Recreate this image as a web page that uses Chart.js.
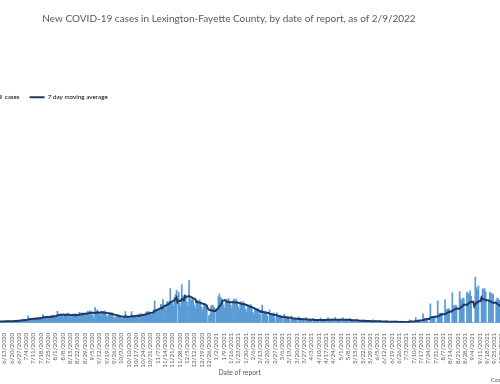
<!DOCTYPE html>
<html>
<head>
<meta charset="utf-8">
<script src="https://cdn.jsdelivr.net/npm/chart.js@4.4.1/dist/chart.umd.min.js"></script>
<style>
  html, body { margin: 0; padding: 0; background: #fff; overflow: hidden; width: 500px; height: 384px; }
  /* the chart is wider than the window: it is cut on both sides like the reference */
  #wrap { position: absolute; left: -53px; top: 0; width: 564px; height: 384px; }
</style>
</head>
<body>
<div id="wrap"><canvas id="chart" width="564" height="384"></canvas></div>
<script>
// daily counts, starting Mon 5/18/2020; rows are Sat..Fri weeks
const cases = [
  9, 12, 11, 12, 10,
  8, 7, 9, 12, 11, 12, 11,
  8, 7, 10, 12, 11, 13, 11,
  9, 8, 10, 13, 12, 14, 12,
  11, 9, 12, 15, 14, 16, 14,
  14, 12, 15, 20, 19, 20, 19,
  19, 16, 21, 27, 25, 28, 24,
  22, 18, 60, 34, 32, 35, 33,
  32, 27, 36, 44, 41, 46, 40,
  40, 33, 70, 50, 48, 54, 47,
  47, 38, 50, 63, 60, 66, 60,
  54, 44, 98, 70, 66, 75, 68,
  58, 48, 62, 78, 75, 82, 74,
  54, 45, 58, 74, 70, 77, 70,
  61, 50, 88, 82, 78, 86, 78,
  72, 60, 77, 98, 93, 102, 94,
  75, 62, 40, 128, 98, 107, 98,
  72, 60, 77, 98, 94, 102, 93,
  61, 50, 65, 83, 79, 86, 79,
  47, 38, 50, 63, 60, 66, 61,
  38, 31, 40, 50, 94, 53, 47,
  43, 36, 46, 94, 56, 61, 56,
  54, 45, 58, 74, 70, 77, 70,
  69, 57, 73, 93, 89, 97, 89,
  80, 66, 85, 108, 187, 113, 104,
  116, 95, 122, 156, 150, 196, 150,
  140, 110, 180, 180, 170, 289, 175,
  170, 140, 215, 240, 275, 0, 260,
  165, 140, 323, 230, 215, 240, 225,
  175, 140, 357, 200, 185, 205, 190,
  150, 120, 175, 190, 180, 195, 175,
  130, 105, 140, 165, 155, 150, 0,
  60, 70, 140, 150, 145, 130, 0,
  120, 110, 220, 245, 215, 205, 185,
  150, 125, 190, 200, 185, 205, 180,
  150, 120, 185, 200, 180, 200, 180,
  135, 110, 165, 180, 165, 180, 165,
  115, 90, 140, 150, 140, 155, 135,
  88, 70, 108, 118, 110, 120, 105,
  70, 0, 150, 95, 90, 100, 90,
  55, 0, 110, 75, 70, 80, 85,
  42, 0, 85, 55, 52, 60, 62,
  35, 0, 72, 47, 45, 50, 52,
  28, 0, 58, 37, 35, 40, 40,
  25, 0, 50, 33, 31, 35, 36,
  22, 0, 44, 28, 27, 30, 31,
  20, 0, 38, 25, 24, 27, 27,
  20, 0, 40, 26, 25, 28, 29,
  22, 0, 44, 28, 27, 30, 31,
  22, 0, 46, 28, 26, 30, 30,
  22, 0, 44, 28, 27, 30, 31,
  18, 0, 36, 23, 22, 24, 24,
  14, 0, 30, 18, 18, 19, 20,
  13, 0, 26, 16, 16, 17, 17,
  10, 0, 8, 26, 14, 16, 17,
  8, 0, 18, 11, 11, 12, 10,
  7, 0, 16, 10, 9, 11, 10,
  6, 0, 14, 9, 8, 10, 9,
  0, 0, 14, 8, 9, 9, 9,
  0, 0, 5, 25, 14, 13, 13,
  0, 0, 45, 20, 22, 23, 23,
  0, 0, 75, 35, 37, 38, 39,
  0, 0, 160, 50, 52, 48, 47,
  0, 0, 187, 78, 80, 82, 77,
  0, 0, 195, 110, 115, 120, 118,
  0, 0, 255, 145, 140, 150, 143,
  0, 0, 265, 200, 190, 210, 206,
  0, 0, 260, 250, 240, 270, 226,
  0, 0, 0, 388, 300, 280, 313,
  0, 0, 218, 290, 280, 290, 259,
  0, 0, 196, 260, 250, 240, 244,
  0, 0, 190, 210, 200, 190, 190,
  0, 0
];

const avg7 = [
  10, 10, 10, 11, 11,
  11, 10, 10, 10, 10, 10, 10,
  10, 10, 10, 10, 10, 10, 10,
  10, 11, 11, 11, 11, 11, 11,
  11, 12, 12, 12, 12, 13, 13,
  13, 14, 14, 15, 16, 16, 17,
  18, 18, 19, 20, 21, 22, 23,
  23, 24, 29, 30, 31, 32, 33,
  35, 36, 33, 35, 36, 37, 38,
  39, 40, 45, 46, 47, 48, 49,
  50, 50, 48, 50, 52, 53, 55,
  56, 57, 64, 65, 66, 67, 68,
  68, 69, 64, 65, 67, 68, 68,
  67, 67, 66, 65, 65, 64, 64,
  65, 66, 70, 71, 72, 73, 75,
  76, 78, 76, 79, 81, 84, 85,
  86, 86, 81, 85, 86, 87, 87,
  86, 86, 91, 87, 87, 86, 85,
  84, 82, 80, 78, 76, 74, 72,
  70, 69, 66, 63, 61, 58, 55,
  54, 53, 52, 50, 55, 53, 50,
  51, 52, 53, 59, 54, 55, 56,
  58, 59, 61, 58, 60, 63, 64,
  66, 68, 70, 73, 76, 79, 81,
  83, 84, 86, 88, 102, 104, 106,
  111, 115, 120, 127, 121, 133, 141,
  144, 146, 154, 158, 161, 174, 178,
  182, 186, 191, 200, 215, 174, 186,
  185, 185, 201, 200, 192, 226, 220,
  222, 222, 227, 222, 218, 213, 207,
  204, 201, 175, 174, 173, 171, 169,
  166, 164, 159, 155, 151, 144, 120,
  111, 106, 106, 104, 102, 99, 99,
  108, 114, 125, 139, 149, 160, 186,
  190, 192, 187, 180, 176, 176, 175,
  175, 174, 173, 173, 172, 171, 171,
  169, 168, 165, 162, 160, 158, 157,
  154, 151, 147, 143, 139, 136, 132,
  128, 125, 120, 115, 111, 106, 103,
  100, 90, 96, 92, 89, 86, 85,
  83, 83, 78, 75, 72, 69, 68,
  66, 66, 63, 60, 57, 54, 51,
  50, 50, 48, 47, 46, 44, 43,
  42, 42, 40, 38, 37, 36, 34,
  34, 34, 33, 32, 32, 31, 30,
  30, 30, 29, 28, 27, 26, 26,
  26, 26, 25, 24, 24, 23, 23,
  23, 23, 23, 24, 24, 24, 24,
  24, 24, 25, 25, 25, 26, 26,
  26, 26, 26, 26, 26, 26, 26,
  26, 26, 26, 26, 26, 26, 26,
  25, 25, 24, 23, 22, 21, 21,
  21, 21, 20, 19, 18, 17, 17,
  17, 17, 16, 16, 16, 15, 15,
  15, 15, 12, 14, 14, 13, 13,
  13, 13, 14, 13, 12, 10, 10,
  10, 10, 10, 9, 9, 9, 9,
  9, 9, 8, 8, 8, 8, 8,
  7, 7, 7, 7, 7, 7, 7,
  7, 7, 6, 9, 10, 10, 10,
  10, 10, 16, 15, 16, 17, 19,
  19, 19, 23, 25, 27, 29, 32,
  32, 32, 44, 46, 48, 49, 51,
  51, 51, 55, 59, 63, 68, 72,
  72, 72, 73, 78, 83, 88, 94,
  94, 94, 103, 108, 112, 116, 119,
  119, 119, 121, 129, 136, 145, 153,
  153, 153, 152, 159, 166, 175, 178,
  178, 178, 141, 161, 170, 171, 183,
  183, 183, 214, 200, 197, 199, 191,
  191, 191, 188, 184, 180, 173, 170,
  170, 170, 169, 162, 155, 148, 140,
  140, 140
];

// one category per day of report
const labels = [];
for (let i = 0; i < cases.length; i++) {
  const d = new Date(Date.UTC(2020, 4, 18 + i));
  labels.push((d.getUTCMonth() + 1) + '/' + d.getUTCDate() + '/' + d.getUTCFullYear());
}
const firstTick = labels.indexOf('6/13/2020');

const BAR = '#5B9BD5';
const LINE = '#1F3864';
const GREY = '#595959';

// small square at the right end of the legend slot
const squareMark = document.createElement('canvas');
squareMark.width = 16;
squareMark.height = 4;
const sq = squareMark.getContext('2d');
sq.fillStyle = BAR;
sq.fillRect(12, 0, 4, 4);

new Chart(document.getElementById('chart'), {
  type: 'bar',
  data: {
    labels: labels,
    datasets: [
      {
        type: 'line',
        label: '7 day moving average',
        data: avg7,
        borderColor: LINE,
        borderWidth: 2,
        pointRadius: 0,
        fill: false,
        tension: 0,
        order: 0
      },
      {
        label: 'cases',
        data: cases,
        backgroundColor: BAR,
        borderWidth: 0,
        barPercentage: 1,
        categoryPercentage: 1,
        order: 1
      }
    ]
  },
  options: {
    responsive: false,
    animation: false,
    layout: { padding: 0 },
    plugins: {
      title: {
        display: true,
        text: 'New COVID-19 cases in Lexington-Fayette County, by date of report, as of 2/9/2022',
        color: GREY,
        font: { family: 'Lato', size: 10, weight: 'normal' },
        padding: { top: 13, bottom: 59 }
      },
      subtitle: {
        display: true,
        position: 'bottom',
        align: 'end',
        text: 'Counts',
        color: GREY,
        font: { family: 'Lato', size: 6.5, weight: 'normal', lineHeight: 1 },
        padding: { top: 0, bottom: 1 }
      },
      legend: {
        fullSize: false,
        align: 'start',
        labels: {
          usePointStyle: true,
          pointStyleWidth: 15,
          boxHeight: 4,
          padding: 10,
          color: GREY,
          font: { family: 'Lato', size: 6.3 },
          generateLabels: () => [
            { text: 'cases', pointStyle: squareMark, fillStyle: BAR, strokeStyle: BAR, lineWidth: 0, datasetIndex: 1, hidden: false },
            { text: '7 day moving average', pointStyle: 'line', fillStyle: LINE, strokeStyle: LINE, lineWidth: 2, datasetIndex: 0, hidden: false }
          ]
        }
      },
      tooltip: { enabled: false }
    },
    scales: {
      x: {
        grid: { display: false },
        border: { display: true, color: '#d9d9d9' },
        ticks: {
          autoSkip: false,
          minRotation: 90,
          maxRotation: 90,
          padding: 2,
          color: GREY,
          font: { family: 'Lato', size: 6.3 },
          callback: (v, i) => (i >= firstTick && (i - firstTick) % 7 === 0) ? labels[i] : null
        },
        title: {
          display: true,
          text: 'Date of report',
          color: GREY,
          font: { family: 'Lato', size: 6.8, lineHeight: 1 },
          padding: { top: 0, bottom: 0 }
        }
      },
      y: {
        min: 0,
        max: 1800,
        ticks: { display: false },
        grid: { display: false },
        border: { display: false },
        afterFit: s => { s.width = 29.5; }
      }
    }
  }
});
</script>
</body>
</html>
